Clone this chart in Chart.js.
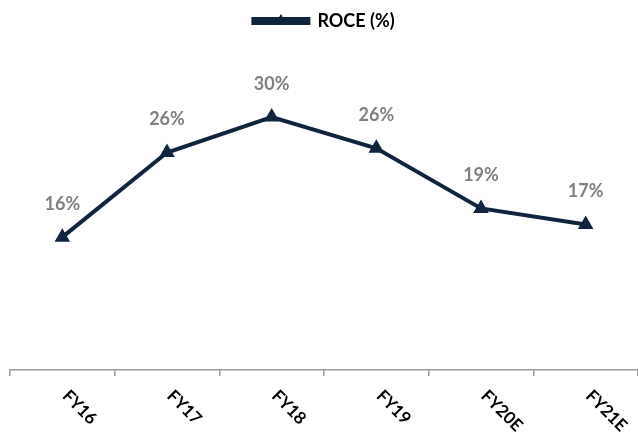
<!DOCTYPE html>
<html>
<head>
<meta charset="utf-8">
<script src="https://cdn.jsdelivr.net/npm/chart.js@4"></script>
<style>
html, body { margin: 0; padding: 0; background: #fff; overflow: hidden; }
#wrap { width: 638px; height: 432px; position: relative; }
</style>
</head>
<body>
<div id="wrap"><canvas id="graph"></canvas></div>
<script>
const years = ['FY16', 'FY17', 'FY18', 'FY19', 'FY20E', 'FY21E']
const roce = [15.7, 25.7, 29.9, 26.2, 19.1, 17.2]
const roceLabels = ['16%', '26%', '30%', '26%', '19%', '17%']
const seriesName = 'ROCE (%)'

const navy = '#10243E'
const grey = '#808080'
const axisGrey = '#9a9a9a'
const fontName = 'Lato, "Open Sans", sans-serif'

// value labels above points, slanted year labels, triangle on legend line
const extras = {
    id: 'extras',
    afterDatasetsDraw(chart){
        const ctx = chart.ctx
        const meta = chart.getDatasetMeta(0)
        ctx.save()
        ctx.font = 'bold 18px ' + fontName
        ctx.fillStyle = grey
        ctx.textAlign = 'center'
        ctx.textBaseline = 'middle'
        meta.data.forEach((pt, i) => {
            ctx.fillText(roceLabels[i], pt.x, pt.y - 33)
        })
        ctx.restore()

        const xScale = chart.scales.x
        ctx.save()
        ctx.font = 'bold 17px ' + fontName
        ctx.fillStyle = '#000'
        ctx.textAlign = 'left'
        ctx.textBaseline = 'middle'
        years.forEach((y, i) => {
            const x = xScale.getPixelForValue(i)
            ctx.save()
            ctx.translate(x + 3, xScale.top + 23)
            ctx.rotate(Math.PI / 4)
            ctx.fillText(y, 0, 0)
            ctx.restore()
        })
        ctx.restore()
    },
    afterDraw(chart){
        const legend = chart.legend
        if(!legend || !legend.legendHitBoxes.length) return
        const box = legend.legendHitBoxes[0]
        const cx = box.left + 55 / 2
        const cy = box.top + box.height / 2
        const r = 7
        const ctx = chart.ctx
        ctx.save()
        ctx.fillStyle = navy
        ctx.beginPath()
        ctx.moveTo(cx, cy - r)
        ctx.lineTo(cx + r * 0.866, cy + r / 2)
        ctx.lineTo(cx - r * 0.866, cy + r / 2)
        ctx.closePath()
        ctx.fill()
        ctx.restore()
    }
}

function setGraph(){
    const ctx = document.getElementById('graph').getContext('2d')
    new Chart(ctx, {
        type: 'line',
        data: {
            labels: years,
            datasets: [{
                label: seriesName,
                data: roce,
                borderColor: navy,
                backgroundColor: navy,
                borderWidth: 4,
                pointStyle: 'triangle',
                pointRadius: 9,
                pointBackgroundColor: navy,
                pointBorderColor: navy,
                pointBorderWidth: 0,
                tension: 0,
                clip: false
            }]
        },
        options: {
            responsive: true,
            maintainAspectRatio: false,
            animation: false,
            layout: { autoPadding: false, padding: { left: 10, right: -2, top: 2, bottom: 56 } },
            plugins: {
                tooltip: { enabled: false },
                legend: {
                    position: 'top',
                    fullSize: false,
                    labels: {
                        boxWidth: 55,
                        boxHeight: 4,
                        color: '#000',
                        padding: 10,
                        font: { family: fontName, size: 18, weight: 'bold' }
                    }
                }
            },
            scales: {
                x: {
                    offset: true,
                    border: { display: true, color: axisGrey, width: 1.5 },
                    grid: {
                        offset: true,
                        drawOnChartArea: false,
                        drawTicks: true,
                        tickLength: 6,
                        color: axisGrey,
                        lineWidth: 1.5
                    },
                    ticks: { display: false }
                },
                y: {
                    display: false,
                    min: 0,
                    max: 39
                }
            }
        },
        plugins: [extras]
    })
}

setGraph()
</script>
</body>
</html>
